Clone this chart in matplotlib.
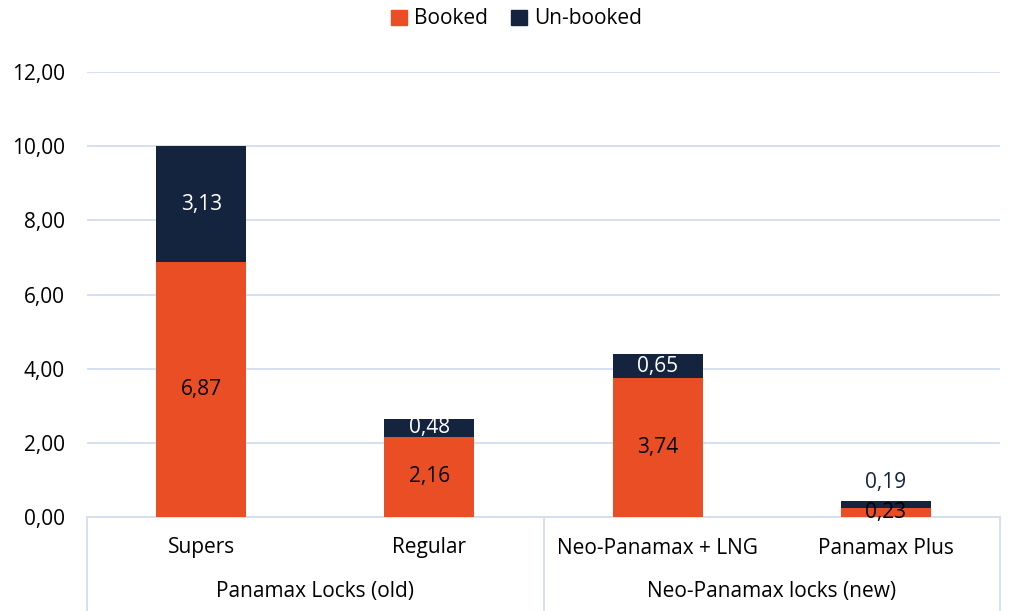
import matplotlib
matplotlib.use("Agg")
import matplotlib.pyplot as plt
from matplotlib.patches import Patch

categories = ["Supers", "Regular", "Neo-Panamax + LNG", "Panamax Plus"]
groups = ["Panamax Locks (old)", "Neo-Panamax locks (new)"]
booked = [6.87, 2.16, 3.74, 0.23]
unbooked = [3.13, 0.48, 0.65, 0.19]
yticks = [0, 2, 4, 6, 8, 10, 12]

ORANGE = "#E94E24"
NAVY = "#14243F"
GRID = "#D3DDF0"
FS = 15

plt.rcParams['font.family'] = ['Open Sans', 'DejaVu Sans']

W, H = 1011, 611
fig = plt.figure(figsize=(W / 100, H / 100), dpi=100)
ax = fig.add_axes([87 / W, (H - 517) / H, 913 / W, 445 / H])

x = list(range(len(categories)))
bw = 0.395
ax.bar(x, booked, width=bw, color=ORANGE, zorder=3, label="Booked")
ax.bar(x, unbooked, width=bw, bottom=booked, color=NAVY, zorder=3, label="Un-booked")

def fmt(v):
    return f"{v:.2f}".replace(".", ",")

for i in x:
    b, u = booked[i], unbooked[i]
    ax.text(i, b / 2, fmt(b), ha="center", va="center", fontsize=FS, color="black", zorder=4)
    if u > 0.4:
        ax.text(i, b + u / 2, fmt(u), ha="center", va="center", fontsize=FS, color="white", zorder=4)
    else:
        ax.text(i, b + u + 0.52, fmt(u), ha="center", va="center", fontsize=FS, color=NAVY, zorder=4)

ax.set_xlim(-0.5, len(categories) - 0.5)
ax.set_ylim(0, 12)
ax.set_yticks(yticks)
ax.set_yticklabels([fmt(v) for v in yticks], fontsize=FS)
ax.tick_params(axis="y", length=0, pad=16)
ax.set_xticks([])
ax.grid(axis="y", color=GRID, linewidth=1.3, zorder=0)
for s in ["top", "right", "left", "bottom"]:
    ax.spines[s].set_visible(False)

tr = ax.get_xaxis_transform()
ax.plot([-0.5, 3.5], [0, 0], transform=tr, color=GRID, lw=1.3, clip_on=False, zorder=2)
ybot = -94 / 445
for xv in [-0.5, 1.5, 3.5]:
    ax.plot([xv, xv], [0, ybot], transform=tr, color=GRID, lw=1.3, clip_on=False)

for i, c in enumerate(categories):
    ax.text(i, -31 / 445, c, transform=tr, ha="center", va="center", fontsize=FS)
for g, gx in zip(groups, [0.5, 2.5]):
    ax.text(gx, -75 / 445, g, transform=tr, ha="center", va="center", fontsize=FS)

handles = [Patch(color=ORANGE, label="Booked"), Patch(color=NAVY, label="Un-booked")]
fig.legend(handles=handles, loc="center", bbox_to_anchor=(0.511, 1 - 19 / H), ncol=2,
           frameon=False, fontsize=FS, handlelength=0.75, handleheight=0.75,
           handletextpad=0.35, columnspacing=1.1)

fig.savefig("out.png", dpi=100)
